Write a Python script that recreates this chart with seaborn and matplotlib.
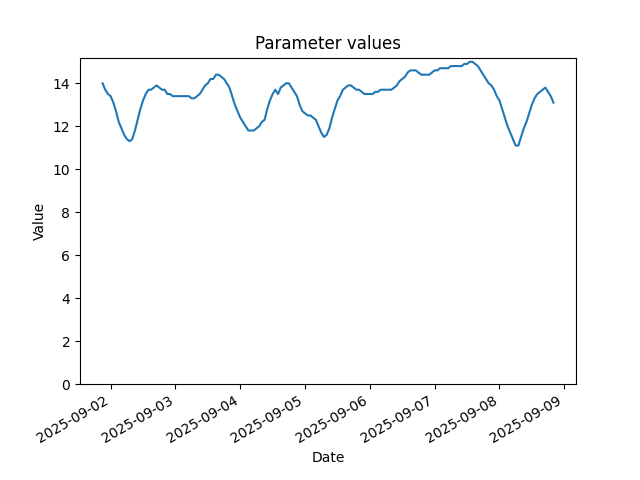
import pandas as pd
import numpy as np
import matplotlib
matplotlib.use("Agg")
import matplotlib.pyplot as plt
import seaborn as sns

# hourly readings, starting 2025-09-01 21:00
start_time = "2025-09-01 21:00"
values = [
    14.0, 13.7, 13.5, 13.4, 13.1, 12.7, 12.2, 11.9, 11.6, 11.4,
    11.3, 11.4, 11.8, 12.3, 12.8, 13.2, 13.5, 13.7, 13.7, 13.8,
    13.9, 13.8, 13.7, 13.7, 13.5, 13.5, 13.4, 13.4, 13.4, 13.4,
    13.4, 13.4, 13.4, 13.3, 13.3, 13.4, 13.5, 13.7, 13.9, 14.0,
    14.2, 14.2, 14.4, 14.4, 14.3, 14.2, 14.0, 13.8, 13.4, 13.0,
    12.7, 12.4, 12.2, 12.0, 11.8, 11.8, 11.8, 11.9, 12.0, 12.2,
    12.3, 12.8, 13.2, 13.5, 13.7, 13.5, 13.8, 13.9, 14.0, 14.0,
    13.8, 13.6, 13.4, 13.0, 12.7, 12.6, 12.5, 12.5, 12.4, 12.3,
    12.0, 11.7, 11.5, 11.6, 11.9, 12.4, 12.8, 13.2, 13.4, 13.7,
    13.8, 13.9, 13.9, 13.8, 13.7, 13.7, 13.6, 13.5, 13.5, 13.5,
    13.5, 13.6, 13.6, 13.7, 13.7, 13.7, 13.7, 13.7, 13.8, 13.9,
    14.1, 14.2, 14.3, 14.5, 14.6, 14.6, 14.6, 14.5, 14.4, 14.4,
    14.4, 14.4, 14.5, 14.6, 14.6, 14.7, 14.7, 14.7, 14.7, 14.8,
    14.8, 14.8, 14.8, 14.8, 14.9, 14.9, 15.0, 15.0, 14.9, 14.8,
    14.6, 14.4, 14.2, 14.0, 13.9, 13.7, 13.4, 13.2, 12.8, 12.4,
    12.0, 11.7, 11.4, 11.1, 11.1, 11.5, 11.9, 12.2, 12.6, 13.0,
    13.3, 13.5, 13.6, 13.7, 13.8, 13.6, 13.4, 13.1,
]

dates = pd.date_range(start_time, periods=len(values), freq="h")
df = pd.DataFrame({"Date": dates, "Value": values})

fig, ax = plt.subplots(figsize=(6.4, 4.8), dpi=100)
sns.lineplot(data=df, x="Date", y="Value", ax=ax)
ax.set_ylim(bottom=0)
ax.set_title("Parameter values")
ax.set_xlabel("Date")
ax.set_ylabel("Value")
fig.autofmt_xdate()

fig.savefig("out.png", dpi=100)
